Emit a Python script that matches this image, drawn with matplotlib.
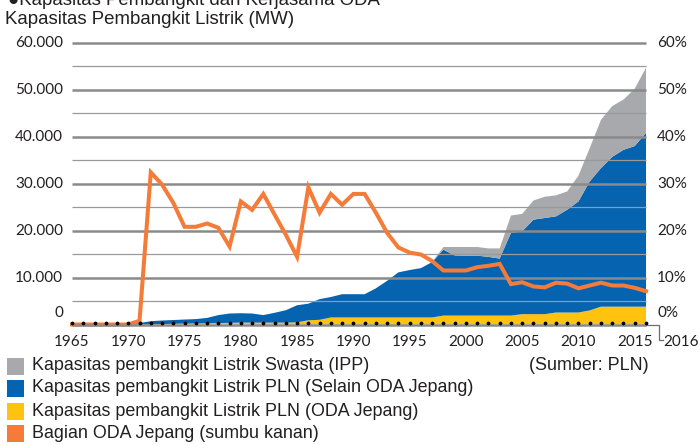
import matplotlib
matplotlib.use("Agg")
import matplotlib.pyplot as plt
from matplotlib.patches import Rectangle
import numpy as np

# ---------------- data ----------------
years = list(range(1965, 2017))
x_tick_years = [1965, 1970, 1975, 1980, 1985, 1990, 1995, 2000, 2005, 2010, 2015]

# PLN capacity built with Japanese ODA (MW)
pln_oda = [0, 0, 0, 0, 0, 0, 0,
           50, 100, 150, 200, 200, 250, 300, 350, 400, 400, 400, 400, 400, 450,
           900, 1000, 1500, 1500, 1500, 1500, 1500, 1500, 1500, 1500, 1500, 1500,
           1900, 1900, 1900, 1900, 1900, 1900, 1900,
           2200, 2200, 2200, 2550, 2550, 2550, 3000,
           3800, 3800, 3800, 3800, 3800]
# PLN capacity other than Japanese ODA (MW)
pln_other = [0, 0, 0, 0, 0, 0, 300,
             650, 750, 800, 860, 950, 1150, 1700, 1990, 2000, 1940, 1600, 2090, 2640, 3650,
             3530, 4400, 4350, 4950, 4950, 4950, 6200, 7800, 9600, 10100, 10500, 11800,
             14040, 12800, 12760, 12760, 12500, 12130, 17590,
             17630, 20120, 20480, 20470, 21890, 23660, 27460,
             29500, 31900, 33390, 34200, 37000]
# Private (IPP) capacity (MW)
ipp = [0] * 33 + [560, 1800, 1840, 1840, 1800, 2170, 3710, 3720, 4080, 4520,
                  4480, 3890, 5490, 7090, 10270, 10800, 10710, 12200, 13850]
# Japanese ODA share (%), right axis
oda_share = [0, 0, 0, 0, 0, 0, 0.8,
             32.4, 29.8, 25.9, 20.8, 20.8, 21.5, 20.6, 16.6, 26.2, 24.4, 27.8, 23.4, 19.1, 14.4,
             29.2, 23.8, 27.8, 25.5, 27.8, 27.8, 23.8, 19.5, 16.4, 15.3, 14.9, 13.5,
             11.5, 11.5, 11.5, 12.2, 12.5, 12.9, 8.6, 9.0, 8.1, 7.9, 8.9, 8.7, 7.7, 8.3,
             8.9, 8.3, 8.3, 7.8, 7.1]

left_ticks = [0, 10000, 20000, 30000, 40000, 50000, 60000]
left_labels = ["0", "10.000", "20.000", "30.000", "40.000", "50.000", "60.000"]
right_labels = ["0%", "10%", "20%", "30%", "40%", "50%", "60%"]

legend_labels = ["Kapasitas pembangkit Listrik Swasta (IPP)",
                 "Kapasitas pembangkit Listrik PLN (Selain ODA Jepang)",
                 "Kapasitas pembangkit Listrik PLN (ODA Jepang)",
                 "Bagian ODA Jepang (sumbu kanan)"]

# ---------------- style ----------------
C_GRAY = "#A7A9AC"
C_BLUE = "#0563AF"
C_YEL = "#FFC20F"
C_ORA = "#F47B38"
GRID = "#8A8A8A"
W, H = 700, 445

TICK_FONT = "Lato"
TXT_FONT = "Liberation Sans"

fig = plt.figure(figsize=(W / 100, H / 100), dpi=100)

def fx(px):
    return px / W

def fy(py):
    return 1 - py / H

# axes placement (pixels)
x_left, x_right = 72, 646
y0_px, y60_px = 324.5, 42.7
ppu = (y0_px - y60_px) / 60000.0
ylo, yhi = -600, 61000
bot_px = y0_px - ylo * ppu
top_px = y60_px - (yhi - 60000) * ppu
ax = fig.add_axes([fx(x_left), fy(bot_px), fx(x_right - x_left), (bot_px - top_px) / H])
ax.set_xlim(1965, 2016)
ax.set_ylim(ylo, yhi)
ax.axis("off")

ax.stackplot(years, pln_oda, pln_other, ipp,
             colors=[C_YEL, C_BLUE, C_GRAY], linewidth=0, zorder=1)

# gridlines
for v in range(5000, 60001, 5000):
    major = (v % 10000 == 0)
    ax.hlines(v, 1965, 2016, colors=GRID if major else "#999999",
              linewidth=1.8 if major else 0.9, zorder=2, clip_on=False)

# share line (right-axis percent maps 1% -> 1000 MW)
ax.plot(years, [s * 1000 for s in oda_share], color=C_ORA, linewidth=2.9,
        solid_joinstyle="miter", zorder=3, clip_on=False)

# baseline + bracket to 2016
ax.hlines(-100, 1965, 2016, colors=GRID, linewidth=1.8, zorder=4, clip_on=False)
xb = 2016 + 13 / 11.25
ax.plot([2016, xb, xb, xb + 0.35], [-100, -100, -3300, -3300], color="#6E6E6E",
        linewidth=0.9, zorder=4, clip_on=False)
# dotted year markers
ax.plot(years, [300] * len(years), linestyle="none", marker="o", markersize=1.7,
        color="black", zorder=5, clip_on=False)

# left tick labels
for v, lab in zip(left_ticks, left_labels):
    py = y0_px - v * ppu
    if v == 0:
        py = 313
    fig.text(fx(63), fy(py), lab, ha="right", va="center", fontsize=11,
             family=TICK_FONT, color="#231F20")
# right tick labels
for v, lab in zip(left_ticks, right_labels):
    py = y0_px - v * ppu
    if v == 0:
        py = 313
    fig.text(fx(657), fy(py), lab, ha="left", va="center", fontsize=11,
             family=TICK_FONT, color="#231F20")
# x tick labels
for yr in x_tick_years:
    px = x_left + (yr - 1965) * (x_right - x_left) / 51.0
    fig.text(fx(px), fy(342), str(yr), ha="center", va="center", fontsize=11,
             family=TICK_FONT, color="#231F20")
fig.text(fx(663), fy(342), "2016", ha="left", va="center", fontsize=11,
         family=TICK_FONT, color="#231F20")

# titles (the first line is cropped at the top edge, as in the source image)
fig.text(fx(8), fy(5), "\u25CFKapasitas Pembangkit dan Kerjasama ODA", ha="left",
         va="baseline", fontsize=13.4, family=[TXT_FONT, "DejaVu Sans"], color="#231F20")
fig.text(fx(5), fy(20), "Kapasitas Pembangkit Listrik (MW)", ha="left", va="center",
         fontsize=13.4, family=TXT_FONT, color="#231F20")

# legend
leg_colors = [C_GRAY, C_BLUE, C_YEL, C_ORA]
leg_y = [366, 388, 411, 433]
for c, lab, py in zip(leg_colors, legend_labels, leg_y):
    fig.patches.append(Rectangle((fx(7), fy(py + 8.5)), fx(17), 17 / H,
                                 transform=fig.transFigure, facecolor=c,
                                 edgecolor="none"))
    fig.text(fx(32), fy(py), lab, ha="left", va="center", fontsize=12.9,
             family=TXT_FONT, color="#231F20")
fig.text(fx(529), fy(366), "(Sumber: PLN)", ha="left", va="center", fontsize=12.9,
         family=TXT_FONT, color="#231F20")

fig.savefig("out.png", dpi=100)
